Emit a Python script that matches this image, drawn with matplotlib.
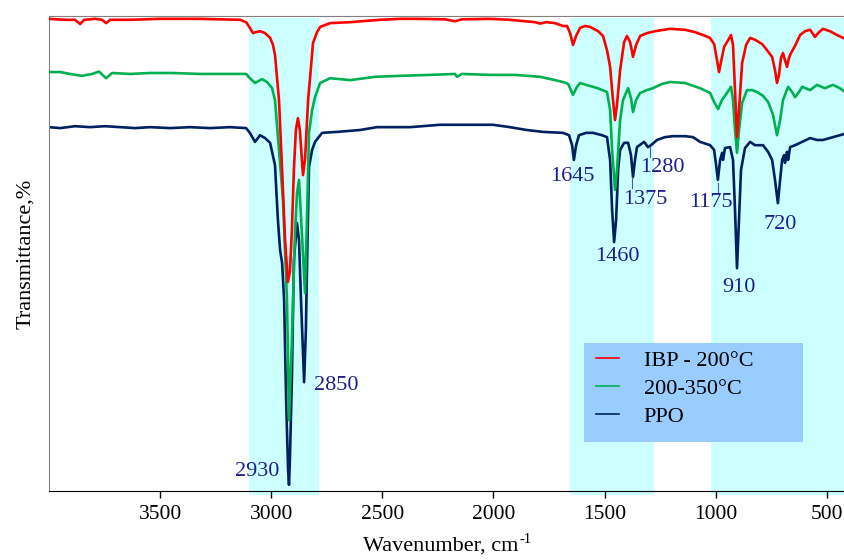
import numpy as np
import matplotlib.pyplot as plt
from matplotlib.patches import Rectangle

plt.rcParams['font.family'] = ['Liberation Serif', 'DejaVu Serif']

# --- spectra (wavenumber cm-1, transmittance %) ---
ibp_wn = [4000, 3928, 3883, 3860, 3842, 3793, 3761, 3743, 3725, 3635, 3500, 3320, 3140,
          3113, 3096, 3082, 3069, 3050, 3028, 3005, 2992, 2983, 2965, 2951, 2938, 2925,
          2916, 2907, 2898, 2889, 2880, 2871, 2862, 2857, 2848, 2834, 2821, 2812, 2794,
          2780, 2735, 2645, 2510, 2420, 2330, 2218, 2173, 2142, 2016, 1926, 1858, 1813,
          1790, 1763, 1723, 1687, 1669, 1655, 1642, 1628, 1610, 1588, 1565, 1529, 1507,
          1489, 1475, 1462, 1453, 1444, 1430, 1412, 1399, 1385, 1372, 1358, 1340, 1309,
          1273, 1205, 1138, 1093, 1057, 1026, 1007, 994, 985, 976, 962, 944, 931, 922,
          913, 904, 895, 881, 863, 845, 823, 791, 769, 746, 733, 724, 715, 706, 697, 688,
          679, 670, 661, 643, 620, 598, 575, 553, 535, 517, 486, 454, 418]
ibp_t = [99.4, 99.2, 99.2, 98.3, 99.2, 99.4, 99.2, 98.5, 99.2, 99.2, 99.4, 99.4, 99.2,
         98.7, 97.5, 96.4, 96.6, 96.8, 96.4, 95.4, 93.9, 91.8, 82.3, 67.6, 53.1, 44.0,
         46.1, 54.9, 67.6, 76.0, 78.5, 76.0, 69.7, 66.5, 69.7, 82.3, 89.3, 94.3, 96.6,
         97.7, 98.5, 98.7, 99.2, 99.4, 99.4, 99.3, 98.9, 99.3, 99.4, 99.2, 98.9, 98.7,
         98.4, 98.7, 98.5, 97.9, 97.9, 96.4, 93.9, 95.8, 97.5, 97.9, 97.7, 96.8, 95.8,
         92.8, 89.3, 82.3, 78.1, 81.3, 88.6, 94.5, 95.8, 94.5, 91.4, 93.9, 95.8, 96.4,
         96.8, 97.3, 97.1, 96.6, 96.0, 95.4, 94.1, 90.7, 88.2, 90.3, 93.5, 94.9, 96.0, 93.9,
         84.4, 74.5, 80.2, 90.1, 93.9, 95.4, 95.0, 94.1, 92.8, 91.4, 88.6, 85.9, 87.6, 91.2,
         92.2, 90.7, 89.3, 91.2, 92.2, 93.7, 96.0, 96.8, 97.1, 95.6, 96.6, 97.3, 96.8, 96.0,
         95.2]

mid_wn = [4000, 3950, 3905, 3852, 3806, 3775, 3743, 3716, 3635, 3545, 3447, 3320, 3185,
          3113, 3096, 3073, 3041, 3019, 2996, 2983, 2965, 2947, 2929, 2920, 2906, 2893,
          2884, 2875, 2862, 2848, 2839, 2830, 2816, 2803, 2780, 2735, 2645, 2533, 2420,
          2285, 2173, 2164, 2142, 2016, 1903, 1790, 1723, 1687, 1664, 1642, 1624, 1610,
          1583, 1552, 1520, 1489, 1475, 1466, 1453, 1444, 1430, 1417, 1394, 1381, 1372,
          1358, 1340, 1309, 1282, 1242, 1205, 1138, 1070, 1025, 1007, 989, 972, 949, 931,
          922, 913, 904, 895, 881, 859, 836, 814, 787, 764, 742, 724, 710, 697, 674, 656,
          643, 625, 611, 575, 544, 508, 472, 441, 418]
mid_t = [88.2, 88.2, 87.8, 87.4, 87.8, 88.3, 86.9, 88.0, 87.8, 88.0, 88.0, 87.8, 87.8,
         87.8, 86.9, 85.9, 86.7, 86.1, 84.8, 82.3, 71.8, 61.3, 40.2, 14.9, 33.3, 54.3,
         62.7, 65.5, 54.3, 41.7, 57.7, 75.4, 80.2, 82.9, 85.9, 86.9, 86.5, 87.2, 87.4,
         87.6, 87.8, 87.2, 87.8, 87.6, 87.6, 87.2, 86.5, 86.1, 85.7, 83.4, 85.1, 85.9,
         85.5, 85.1, 84.6, 84.0, 80.2, 71.8, 63.4, 67.6, 78.1, 82.3, 84.8, 82.7, 79.8,
         82.3, 83.8, 84.4, 84.8, 85.7, 86.1, 85.9, 84.8, 83.8, 81.9, 80.4, 82.3, 83.8, 85.1,
         82.3, 76.0, 71.2, 76.0, 81.7, 84.4, 84.4, 84.0, 83.2, 81.9, 79.2, 74.9, 78.1, 82.3,
         85.1, 84.0, 82.9, 84.0, 85.1, 84.4, 85.5, 84.8, 85.5, 84.8, 84.0]

ppo_wn = [4000, 3950, 3883, 3816, 3748, 3680, 3613, 3545, 3455, 3366, 3276, 3186, 3113,
          3096, 3073, 3050, 3028, 3005, 2983, 2970, 2960, 2951, 2942, 2933, 2924, 2920,
          2916, 2907, 2898, 2884, 2875, 2866, 2852, 2844, 2839, 2830, 2816, 2803, 2771,
          2704, 2600, 2524, 2375, 2240, 2150, 2002, 1926, 1850, 1777, 1687, 1660, 1646,
          1638, 1628, 1615, 1583, 1552, 1511, 1489, 1475, 1466, 1457, 1448, 1439, 1430,
          1412, 1394, 1381, 1372, 1363, 1354, 1322, 1305, 1291, 1264, 1228, 1192, 1138,
          1102, 1070, 1025, 1007, 998, 990, 980, 971, 967, 958, 935, 922, 913, 904, 895,
          886, 868, 845, 823, 787, 764, 746, 733, 720, 710, 701, 692, 688, 679, 674, 665,
          643, 620, 575, 544, 517, 472, 418]
ppo_t = [76.6, 76.4, 76.8, 76.6, 76.8, 76.6, 76.4, 76.6, 76.4, 76.6, 76.4, 76.6, 76.4,
         75.4, 73.5, 74.9, 74.3, 73.3, 68.6, 57.1, 50.7, 48.0, 40.2, 19.2, 4.4, 1.3,
         6.5, 23.4, 48.6, 56.4, 52.8, 40.2, 22.9, 33.9, 47.2, 68.2, 71.8, 73.5, 75.4,
         75.6, 76.0, 76.6, 76.6, 77.1, 77.1, 77.1, 76.6, 76.0, 75.6, 75.4, 74.9, 72.8,
         69.7, 72.8, 74.9, 75.4, 75.4, 74.9, 74.5, 69.7, 59.2, 52.4, 57.1, 67.6, 71.8,
         73.3, 73.3, 70.7, 66.1, 69.7, 72.4, 73.5, 72.4, 72.8, 73.9, 74.5, 74.7, 74.7,
         74.5, 73.5, 72.8, 71.8, 68.6, 65.5, 69.7, 71.2, 69.7, 72.2, 72.4, 69.7, 59.2, 46.9,
         57.1, 67.6, 72.2, 73.5, 72.8, 72.8, 71.4, 69.7, 65.5, 60.6, 65.5, 69.7, 70.7, 69.1,
         71.4, 69.7, 72.4, 72.8, 73.3, 74.3, 73.9, 73.9, 74.5, 75.2]

series_names = ['IBP - 200°C', '200-350°C', 'PPO']

# shaded bands (cm-1)
bands = [(3100, 2785), (1655, 1277), (1021, 400)]

# peak labels
peak_labels = ['2930', '2850', '1645', '1460', '1375', '1280', '1175', '910', '720']
label_pos = [(3064, 4.0), (2709, 22.3), (1646, 66.3), (1444, 49.3), (1318, 61.3),
             (1242, 68.2), (1021, 60.8), (895, 42.9), (710, 56.2)]
# thin leader marks under some labels: (wn, top, bottom)
leaders = [(1376, 66.1, 63.8), (1296, 72.4, 70.3), (990, 64.8, 62.7)]

red = '#ff0000'
green = '#00b050'
navy = '#002060'
lab_col = '#1f1f8c'

fig = plt.figure(figsize=(8.45, 5.6), dpi=100)
ax = fig.add_axes([49/845, 69/560, 1 - 49/845, 475/560])

for lo, hi in bands:
    ax.axvspan(lo, hi, ymin=-0.008, ymax=0.996, color='#ccffff', lw=0, zorder=0, clip_on=False)

l3, = ax.plot(ppo_wn, ppo_t, color=navy, lw=1.9, zorder=2, solid_joinstyle='round')
l2, = ax.plot(mid_wn, mid_t, color=green, lw=1.9, zorder=3, solid_joinstyle='round')
l1, = ax.plot(ibp_wn, ibp_t, color=red, lw=1.9, zorder=4, solid_joinstyle='round')

for txt, (xx, yy) in zip(peak_labels, label_pos):
    ax.text(xx, yy, txt, color=lab_col, fontsize=16, ha='center', va='center', zorder=6)
for xx, y0, y1 in leaders:
    ax.plot([xx, xx], [y0, y1], color='#4a5aa8', lw=0.8, zorder=5)

ax.set_xlim(4000, 418)
ax.set_ylim(0, 100)
ax.set_xticks([3500, 3000, 2500, 2000, 1500, 1000, 500])
ax.set_yticks([])
ax.tick_params(axis='x', direction='out', length=5, width=1, labelsize=15.5, pad=5)

ax.spines['right'].set_visible(False)
ax.spines['top'].set_color('#808080')
ax.spines['left'].set_color('#808080')
ax.spines['bottom'].set_color('black')

xlab = ax.set_xlabel('Wavenumber, cm', fontsize=16, labelpad=9)
xlab.set_x(0.492)
ax.set_ylabel('Transmittance,%', fontsize=16, labelpad=10)

# legend box
ax.add_patch(Rectangle((0.672, 0.103), 0.275, 0.209, transform=ax.transAxes,
                       facecolor='#99ccff', edgecolor='none', zorder=7))
h1 = plt.Line2D([], [], color=red, lw=1.2)
h2 = plt.Line2D([], [], color=green, lw=1.2)
h3 = plt.Line2D([], [], color=navy, lw=1.2)
leg = ax.legend([h1, h2, h3], series_names, loc='upper left', bbox_to_anchor=(0.687, 0.296),
                frameon=False, fontsize=16, handlelength=1.05, handletextpad=1.1,
                labelspacing=0.34, borderpad=0, borderaxespad=0)
leg.set_zorder(8)

# superscript "-1" after the x label (plain hyphen, as in the original)
fig.canvas.draw()
bb = xlab.get_window_extent()
W, H = fig.bbox.width, fig.bbox.height
fig.text((bb.x1 + 1) / W, (bb.y1 + 3) / H, '-1', fontsize=10.5, ha='left', va='top')

fig.savefig('out.png', dpi=100)
